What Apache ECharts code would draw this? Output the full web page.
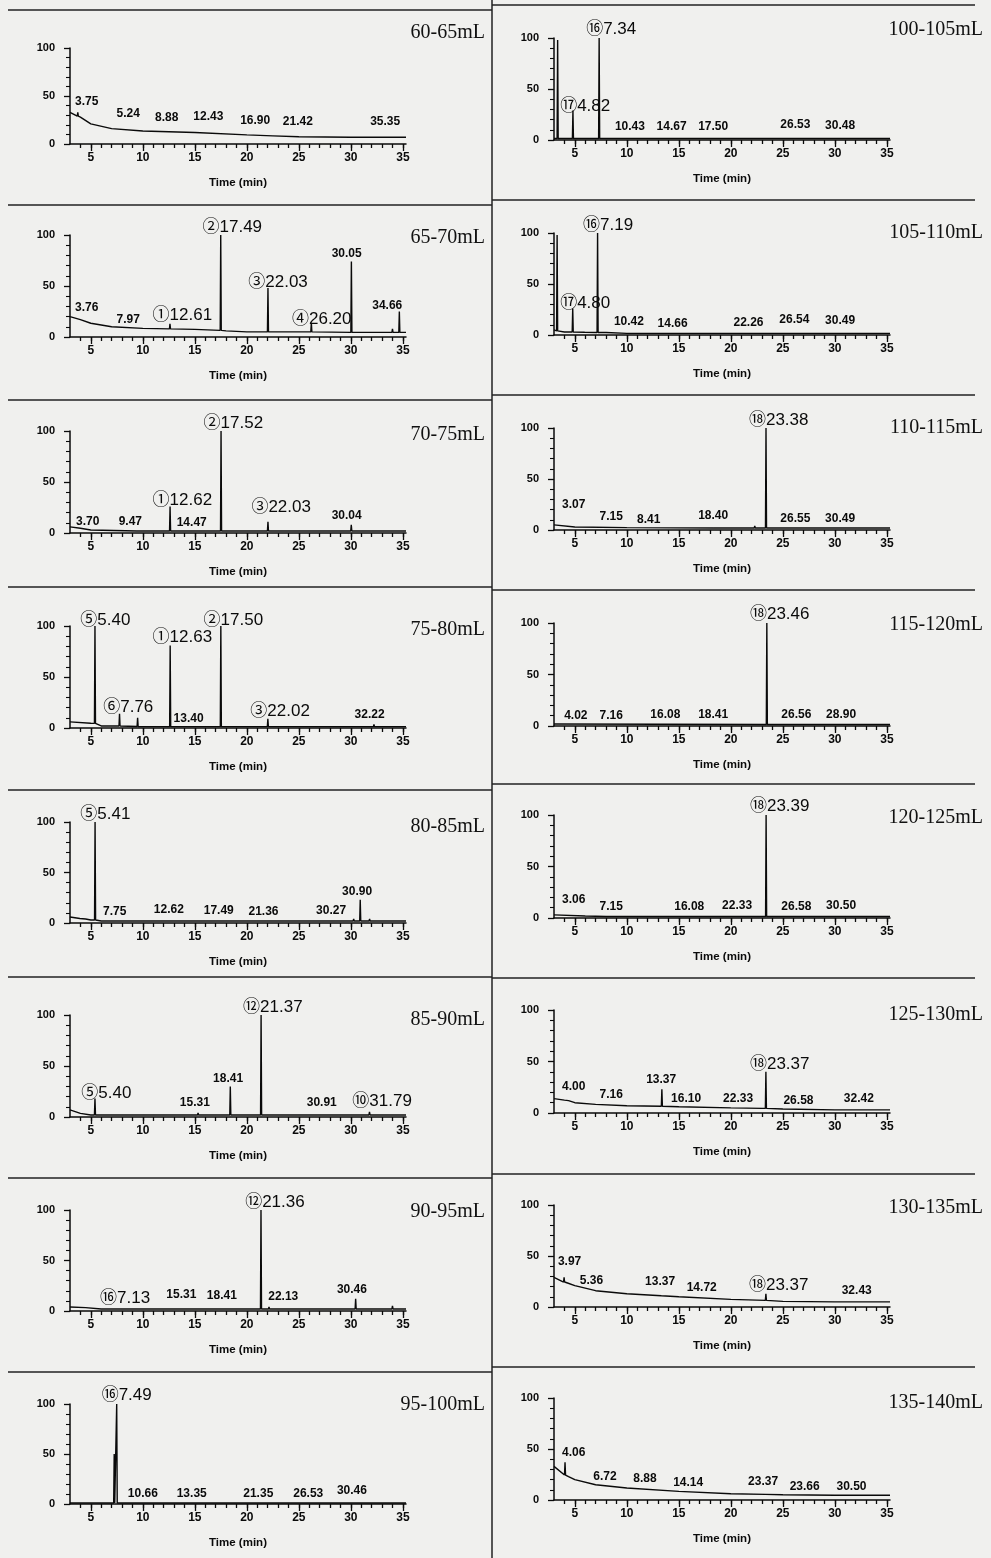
<!DOCTYPE html>
<html>
<head>
<meta charset="utf-8">
<script src="https://cdn.jsdelivr.net/npm/echarts@6/dist/echarts.min.js"></script>
<style>
  html, body { margin: 0; padding: 0; background: #f0f0ee; }
  #chart { width: 991px; height: 1558px; }
</style>
</head>
<body>
<div id="chart"></div>
<script>
// fraction volumes, left column then right column
const volumes = ['60-65mL', '65-70mL', '70-75mL', '75-80mL', '80-85mL', '85-90mL', '90-95mL', '95-100mL',
                 '100-105mL', '105-110mL', '110-115mL', '115-120mL', '120-125mL', '125-130mL', '130-135mL', '135-140mL'];

const xTickVals = [4,5,6,7,8,9,10,11,12,13,14,15,16,17,18,19,20,21,22,23,24,25,26,27,28,29,30,31,32,33,34,35];
const xLabelVals = [5, 10, 15, 20, 25, 30, 35];

// baselines: [time, abundance]; peaks: [time, top, foot]; labels: [time, height, text]
const base60 = [[3,33],[4,28],[5,21],[7,16],[10,13.5],[15,12],[20,9.5],[22.5,8.5],[25,7.6],[30,7],[35.3,7]];
const peak60 = [[3.75,33,29]];
const lab60 = [[4.6,44,'3.75'],[8.6,32,'5.24'],[12.3,27,'8.88'],[16.3,28,'12.43'],[20.8,24,'16.90'],[24.9,23,'21.42'],[33.3,23,'35.35']];

const base65 = [[3,20],[4,17],[5,13.5],[7,10],[10,8.5],[15,7.5],[18,6],[20,5],[25,5],[30,4.5],[35.3,4.5]];
const peak65 = [[12.61,13,8],[17.49,100,6.5],[22.03,48,5],[26.2,14,5],[30.05,74,4.5],[34.0,8,4.5],[34.66,25,4.5]];
const lab65 = [[4.6,29,'3.76'],[8.6,17,'7.97'],[13.8,21,'①12.61'],[18.6,108,'②17.49'],[23.0,54,'③22.03'],
               [27.2,17,'④26.20'],[29.6,82,'30.05'],[33.5,31,'34.66']];

const base70 = [[3,6],[4,4.6],[5,3],[10,2],[35.3,2]];
const peak70 = [[9.47,3.5,2],[12.62,26,2],[14.47,3,2],[17.52,100,2],[22.03,11,2],[30.04,8,2]];
const lab70 = [[4.7,11,'3.70'],[8.8,11,'9.47'],[13.8,32,'①12.62'],[14.7,10,'14.47'],[18.7,108,'②17.52'],
               [23.3,25,'③22.03'],[29.6,17,'30.04']];

const base75 = [[3,6],[5,4.6],[6,2],[10,1.3],[35.3,1.3]];
const peak75 = [[5.4,100,4.5],[7.76,14,2],[9.5,10,1.5],[12.63,81,1.3],[13.4,2.5,1.3],[17.5,100,1.3],[22.02,9,1.3],[31.0,3,1.3],[32.22,3.5,1.3]];
const lab75 = [[6.4,106,'⑤5.40'],[13.8,89,'①12.63'],[18.7,106,'②17.50'],[8.6,20,'⑥7.76'],[14.4,9.5,'13.40'],
               [23.2,16,'③22.02'],[31.8,12.7,'32.22']];

const base80 = [[3,6],[4.5,4],[5,3],[6,2],[35.3,2]];
const peak80 = [[4.0,6,4.5],[5.41,100,3],[12.62,3,2],[30.27,4,2],[30.9,23,2],[31.8,4,2]];
const lab80 = [[6.4,108,'⑤5.41'],[7.3,11,'7.75'],[12.5,13,'12.62'],[17.3,12,'17.49'],[21.6,11,'21.36'],
               [28.1,12,'30.27'],[30.6,31,'30.90']];

const base85 = [[3,7],[4,3.6],[5,2],[35.3,2]];
const peak85 = [[4.1,4,3.5],[5.4,18,2],[15.31,4,2],[18.41,30,2],[21.37,100,2],[31.79,5,2]];
const lab85 = [[6.5,23,'⑤5.40'],[15.0,14,'15.31'],[18.2,38,'18.41'],[22.5,108,'⑫21.37'],[27.2,14,'30.91'],[33.0,15,'⑩31.79']];

const base90 = [[3,4],[4.5,3.3],[6,2],[35.3,2]];
const peak90 = [[15.31,3,2],[18.41,3,2],[21.36,100,2],[22.13,4,2],[30.46,12,2],[34.0,5,2]];
const lab90 = [[8.3,12.5,'⑯7.13'],[13.7,16,'15.31'],[17.6,15,'18.41'],[22.7,108,'⑫21.36'],[23.5,14,'22.13'],[30.1,21,'30.46']];

const base95 = [[3,1],[35.3,1]];
const peak95 = [[7.25,50,1],[7.49,100,1]];
const lab95 = [[8.45,109,'⑯7.49'],[10.0,10.7,'10.66'],[14.7,10.7,'13.35'],[21.1,10.7,'21.35'],[25.9,10.7,'26.53'],[30.1,13,'30.46']];

const base100 = [[3,1.5],[35.3,1.5]];
const peak100 = [[3.35,98,1.5],[4.82,29,1.5],[7.34,100,1.5]];
const lab100 = [[6.0,33,'⑰4.82'],[8.5,109,'⑯7.34'],[10.3,13,'10.43'],[14.3,13,'14.67'],[18.3,13,'17.50'],
                [26.2,15,'26.53'],[30.5,14,'30.48']];

const base105 = [[3,5],[4,3],[8,2.5],[10,1.6],[35.3,1.6]];
const peak105 = [[3.3,98,4],[4.8,26,3],[6.0,4,2.7],[7.19,100,2.5]];
const lab105 = [[6.0,31,'⑰4.80'],[8.2,108,'⑯7.19'],[10.2,13,'10.42'],[14.4,11.5,'14.66'],[21.7,12.4,'22.26'],
                [26.1,15,'26.54'],[30.5,14,'30.49']];

const base110 = [[3,5],[5,3],[10,2.3],[20,2],[35.3,2]];
const peak110 = [[18.4,3,2],[22.3,4,2],[23.38,100,2]];
const lab110 = [[4.9,24.5,'3.07'],[8.5,13,'7.15'],[12.1,10,'8.41'],[18.3,14,'18.40'],[24.6,108,'⑱23.38'],
                [26.2,11.5,'26.55'],[30.5,11.5,'30.49']];

const base115 = [[3,2],[35.3,1.5]];
const peak115 = [[23.46,100,1.5]];
const lab115 = [[5.1,10,'4.02'],[8.5,10,'7.16'],[13.7,10.7,'16.08'],[18.3,10.7,'18.41'],[24.7,108,'⑱23.46'],
                [26.3,10.7,'26.56'],[30.6,10.7,'28.90']];

const base120 = [[3,3],[6,2],[8,1.5],[35.3,1.5]];
const peak120 = [[23.39,100,1.5]];
const lab120 = [[4.9,17.5,'3.06'],[8.5,11,'7.15'],[16.0,11,'16.08'],[20.6,12,'22.33'],[24.7,108,'⑱23.39'],
                [26.3,11,'26.58'],[30.6,12,'30.50']];

const base125 = [[3,14],[4.4,12],[5,10],[7,8.4],[10,7],[15,6],[20,5],[23,4.5],[25,3.9],[30,3],[35.3,3]];
const peak125 = [[4.05,14,12.5],[13.37,23,6.5],[23.37,40,4.5],[32.42,4,3]];
const lab125 = [[4.9,26,'4.00'],[8.5,17.5,'7.16'],[13.3,32,'13.37'],[15.7,14,'16.10'],[20.7,13.6,'22.33'],
                [24.7,47,'⑱23.37'],[26.5,11.7,'26.58'],[32.3,13.6,'32.42']];

const base130 = [[3,29],[4.3,23.5],[5,21],[7,16],[10,13],[15,10],[20,7.5],[25,5.5],[30,5],[35.3,5]];
const peak130 = [[3.97,29,24.5],[13.37,12,11],[23.37,13,6.5]];
const lab130 = [[4.5,44,'3.97'],[6.6,26,'5.36'],[13.2,25,'13.37'],[17.2,19,'14.72'],[24.6,21,'⑱23.37'],[32.1,16,'32.43']];

const base135 = [[3,33],[4.4,23],[5,20],[7,15],[10,11.8],[15,8.5],[20,6.2],[25,5.2],[30,4.6],[35.3,4.6]];
const peak135 = [[4.06,37,24.5],[23.37,7,5.5]];
const lab135 = [[4.9,46,'4.06'],[7.9,23,'6.72'],[11.75,21,'8.88'],[15.9,17,'14.14'],[23.1,18,'23.37'],
                [27.1,13,'23.66'],[31.6,13,'30.50']];

const bases = [base60, base65, base70, base75, base80, base85, base90, base95,
               base100, base105, base110, base115, base120, base125, base130, base135];
const peaks = [peak60, peak65, peak70, peak75, peak80, peak85, peak90, peak95,
               peak100, peak105, peak110, peak115, peak120, peak125, peak130, peak135];
const labels = [lab60, lab65, lab70, lab75, lab80, lab85, lab90, lab95,
                lab100, lab105, lab110, lab115, lab120, lab125, lab130, lab135];

// layout of the scanned page
const COL_X = [70, 554];
const PLOT_W = 336;
const rowsL = [[48,144],[235,337],[431,533],[626,728],[822,923],[1015,1117],[1210,1311],[1404,1504]];
const rowsR = [[38,140],[233,335],[428,530],[623,726],[815,918],[1010,1113],[1205,1307],[1398,1500]];
const titleYL = [33, 238, 435, 630, 827, 1020, 1212, 1405];
const titleYR = [30, 233, 428, 625, 818, 1015, 1208, 1403];
const sepL = [10, 205, 400, 587, 790, 977, 1178, 1372];
const sepR = [5, 200, 395, 590, 784, 978, 1174, 1367];
const PEAK_HALF = 0.05;
const INK = '#0a0a0a';
const SANS = 'Arial, "Liberation Sans", "Noto Sans CJK SC", sans-serif';

function trace(base, pk) {
  const pts = base.slice();
  pk.forEach(function (p) {
    pts.push([p[0] - PEAK_HALF, p[2]], [p[0], p[1]], [p[0] + PEAK_HALF, p[2]]);
  });
  return pts.sort(function (a, b) { return a[0] - b[0]; });
}

const grids = [], xAxes = [], yAxes = [], series = [], graphics = [];

volumes.forEach(function (vol, i) {
  const col = i < 8 ? 0 : 1;
  const row = i % 8;
  const r = col === 0 ? rowsL[row] : rowsR[row];
  grids.push({ left: COL_X[col], top: r[0], width: PLOT_W, height: r[1] - r[0] });

  xAxes.push({
    gridIndex: i, type: 'value', min: 3, max: 35.3,
    axisLine: { lineStyle: { color: INK, width: 1.5 } },
    axisTick: { customValues: xTickVals, length: 4, lineStyle: { color: INK, width: 1.3 } },
    axisLabel: { customValues: xLabelVals, color: INK, fontSize: 12, fontWeight: 'bold', fontFamily: SANS, margin: 8 },
    splitLine: { show: false },
    name: 'Time (min)', nameLocation: 'middle', nameGap: 33,
    nameTextStyle: { color: INK, fontSize: 11.5, fontWeight: 'bold', fontFamily: SANS }
  });
  xAxes.push({
    gridIndex: i, type: 'value', min: 3, max: 35.3, position: 'bottom',
    axisLine: { show: false },
    axisTick: { customValues: xLabelVals, length: 7, lineStyle: { color: INK, width: 1.3 } },
    axisLabel: { show: false },
    splitLine: { show: false }
  });
  yAxes.push({
    gridIndex: i, type: 'value', min: 0, max: 100, interval: 50,
    axisLine: { show: true, lineStyle: { color: INK, width: 1.5 } },
    axisTick: { show: true, length: 6, lineStyle: { color: INK, width: 1.3 } },
    minorTick: { show: true, splitNumber: 5, length: 4, lineStyle: { color: INK, width: 1.1 } },
    axisLabel: { color: INK, fontSize: 11, fontWeight: 'bold', fontFamily: SANS, margin: 15 },
    splitLine: { show: false },
    minorSplitLine: { show: false }
  });

  series.push({
    type: 'line', xAxisIndex: 2 * i, yAxisIndex: i,
    data: trace(bases[i], peaks[i]),
    symbol: 'none', clip: false, silent: true,
    lineStyle: { color: INK, width: 1.4 }
  });
  series.push({
    type: 'scatter', xAxisIndex: 2 * i, yAxisIndex: i,
    symbolSize: 1, clip: false, silent: true,
    itemStyle: { color: 'rgba(0,0,0,0)', opacity: 1 },
    data: labels[i].map(function (l) {
      const big = /[\u2460-\u2473]/.test(l[2]);
      return {
        value: [l[0], l[1]],
        label: {
          show: true, position: 'inside', formatter: l[2], color: INK,
          fontFamily: SANS,
          fontSize: big ? 17 : 12,
          fontWeight: big ? 'normal' : 'bold'
        }
      };
    })
  });

  graphics.push({
    type: 'text',
    x: col === 0 ? 485 : 983,
    y: col === 0 ? titleYL[row] : titleYR[row],
    style: {
      text: vol, fill: '#111', align: 'right', verticalAlign: 'middle',
      font: '20px "Liberation Serif", "Times New Roman", serif'
    }
  });
});

sepL.forEach(function (y) {
  graphics.push({ type: 'line', shape: { x1: 8, y1: y, x2: 492, y2: y }, style: { stroke: '#222', lineWidth: 1.5 } });
});
sepR.forEach(function (y) {
  graphics.push({ type: 'line', shape: { x1: 492, y1: y, x2: 975, y2: y }, style: { stroke: '#222', lineWidth: 1.5 } });
});
graphics.push({ type: 'line', shape: { x1: 492, y1: 0, x2: 492, y2: 1558 }, style: { stroke: '#222', lineWidth: 1.5 } });

const myChart = echarts.init(document.getElementById('chart'));
myChart.setOption({
  backgroundColor: '#f0f0ee',
  animation: false,
  grid: grids,
  xAxis: xAxes,
  yAxis: yAxes,
  series: series,
  graphic: graphics
});
</script>
</body>
</html>
